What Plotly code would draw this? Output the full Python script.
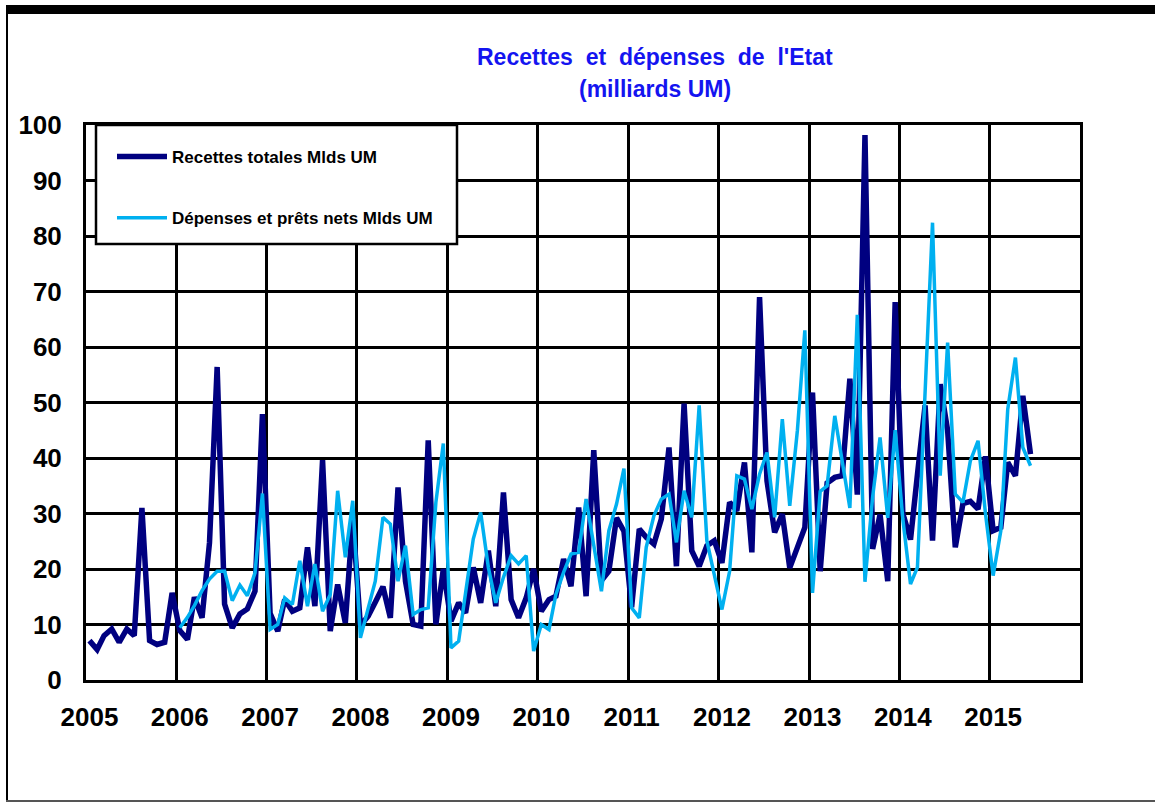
import plotly.graph_objects as go

# ---------------- data ----------------
recettes_start = (2005, 1)
recettes = [
    7.1, 5.5, 8.0, 9.2, 6.8, 9.2, 8.0, 31.0, 7.1, 6.4, 6.8, 15.7,        # 2005
    8.9, 7.3, 14.9, 11.2, 24.7, 56.4, 13.7, 9.4, 11.9, 12.8, 16.0, 47.9,  # 2006
    12.0, 8.8, 14.5, 12.4, 13.0, 23.9, 13.3, 39.6, 8.8, 17.2, 10.3, 29.0, # 2007
    9.8, 11.5, 14.0, 16.8, 11.2, 34.7, 17.8, 10.0, 9.7, 43.2, 10.0, 20.0, # 2008
    10.6, 13.9, 12.1, 20.3, 13.9, 23.3, 13.3, 33.8, 14.5, 11.2, 14.8, 20.0, # 2009
    12.4, 14.5, 15.1, 21.8, 16.9, 31.1, 15.1, 41.4, 17.9, 19.6, 29.2, 26.8, # 2010
    13.1, 27.2, 25.7, 24.5, 29.0, 41.9, 20.5, 49.8, 23.3, 20.5, 24.2, 25.1, # 2011
    21.1, 32.0, 30.5, 39.2, 23.0, 69.0, 35.9, 26.6, 29.9, 20.2, 23.9, 27.5, # 2012
    51.8, 19.6, 35.5, 36.5, 36.8, 54.3, 33.4, 98.2, 23.6, 29.8, 17.8, 68.1, # 2013
    30.0, 25.3, 37.0, 49.5, 25.1, 53.3, 45.0, 23.9, 31.8, 32.2, 30.8, 40.3, # 2014
    26.9, 27.5, 39.2, 36.8, 51.2, 40.7,                                   # 2015
]

depenses_start = (2006, 1)
depenses = [
    9.4, 11.3, 13.4, 16.1, 18.2, 19.6, 19.6, 14.3, 17.1, 15.2, 19.3, 33.6,  # 2006
    9.1, 10.0, 14.8, 13.6, 21.5, 13.3, 20.9, 12.4, 15.4, 34.1, 22.1, 32.3,  # 2007
    7.6, 12.9, 17.8, 29.3, 28.1, 17.8, 24.2, 11.8, 12.7, 13.0, 32.0, 42.6,  # 2008
    5.8, 7.0, 16.0, 25.4, 30.2, 20.3, 13.9, 18.5, 22.4, 20.9, 22.4, 5.2,    # 2009
    10.0, 9.1, 15.4, 19.4, 22.7, 23.0, 32.6, 24.0, 16.0, 26.9, 31.7, 38.1,  # 2010
    13.0, 11.2, 23.9, 29.6, 32.6, 33.5, 24.8, 34.1, 29.3, 49.5, 25.1, 19.0, # 2011
    12.7, 19.6, 36.8, 36.2, 30.8, 37.1, 41.0, 29.3, 47.0, 31.4, 45.0, 63.0, # 2012
    15.7, 34.0, 35.0, 47.6, 39.5, 31.0, 65.8, 17.7, 33.0, 43.7, 29.2, 45.0, # 2013
    29.0, 17.3, 20.3, 52.0, 82.4, 36.8, 60.8, 33.5, 32.0, 39.5, 43.1, 30.0, # 2014
    18.8, 26.9, 48.8, 58.1, 41.9, 38.6,                                    # 2015
]

years = list(range(2005, 2016))
year_labels = [str(y) for y in years]

title_line1 = "Recettes\u00a0 et\u00a0 dépenses\u00a0 de\u00a0 l'Etat"
title_line2 = "(milliards UM)"
name_recettes = "Recettes totales Mlds UM"
name_depenses = "Dépenses et prêts nets Mlds UM"


def month_dates(start, n):
    y, m = start
    out = []
    for _ in range(n):
        out.append(f"{y}-{m:02d}-15")
        m += 1
        if m > 12:
            m = 1
            y += 1
    return out


x_rec = month_dates(recettes_start, len(recettes))
x_dep = month_dates(depenses_start, len(depenses))

FONT = "Liberation Sans, Arial, sans-serif"
NAVY = "#000080"
LIGHT = "#00B0F0"

fig = go.Figure()
fig.add_trace(go.Scatter(
    x=x_rec, y=recettes, mode="lines", name=name_recettes,
    line=dict(color=NAVY, width=5.5), legendgroup="a",
))
fig.add_trace(go.Scatter(
    x=x_dep, y=depenses, mode="lines", name=name_depenses,
    line=dict(color=LIGHT, width=3.5), legendgroup="b",
))

# plot area in pixels: x 86..1080, y 125..680
W, H = 1155, 803
L, R, T, B = 86, 1080, 125, 680


def px(x):
    return (x - L) / (R - L)


def py(y):
    return (B - y) / (B - T)


shapes = [
    # outer frame: thick top bar, thin left line, bottom line
    dict(type="rect", xref="paper", yref="paper", x0=px(6), x1=px(1160), y0=py(14), y1=py(5),
         fillcolor="black", line=dict(width=0), layer="above"),
    dict(type="rect", xref="paper", yref="paper", x0=px(6), x1=px(8), y0=py(802), y1=py(6),
         fillcolor="black", line=dict(width=0), layer="above"),
    dict(type="rect", xref="paper", yref="paper", x0=px(6), x1=px(1160), y0=py(802), y1=py(800),
         fillcolor="#555555", line=dict(width=0), layer="above"),
    # legend box
    dict(type="rect", xref="paper", yref="paper", x0=px(96), x1=px(457), y0=py(244), y1=py(125),
         fillcolor="white", line=dict(color="black", width=2.5), layer="above"),
]

annotations = [
    dict(text=f"<b>{title_line1}</b>", x=px(655), y=py(57), xref="paper", yref="paper",
         showarrow=False, xanchor="center", yanchor="middle",
         font=dict(family=FONT, size=23, color="#1414F0")),
    dict(text=f"<b>{title_line2}</b>", x=px(655), y=py(89), xref="paper", yref="paper",
         showarrow=False, xanchor="center", yanchor="middle",
         font=dict(family=FONT, size=23, color="#1414F0")),
]

fig.update_layout(
    width=W, height=H,
    margin=dict(l=L, r=W - R, t=T, b=H - B, pad=0),
    paper_bgcolor="white", plot_bgcolor="white",
    font=dict(family=FONT, color="black"),
    shapes=shapes, annotations=annotations,
    showlegend=True,
    legend=dict(
        x=px(112), y=py(139), xanchor="left", yanchor="top",
        bgcolor="rgba(0,0,0,0)", borderwidth=0,
        font=dict(family=FONT, size=17, color="black", weight="bold"),
        itemwidth=50, tracegroupgap=36,
    ),
)

fig.update_xaxes(
    type="date", range=["2005-01-01", "2016-01-01"],
    tickvals=[f"{y}-01-15" for y in years], ticktext=year_labels,
    showgrid=False, ticks="", ticklabelstandoff=12,
    tickfont=dict(family=FONT, size=26, color="black", weight="bold"),
    minor=dict(tick0="2005-01-01", dtick="M12", showgrid=True,
               gridcolor="black", gridwidth=3, ticks=""),
    showline=True, linecolor="black", linewidth=3, mirror=True,
    zeroline=False,
)
fig.update_yaxes(
    range=[0, 100], dtick=10, tick0=0,
    showgrid=True, gridcolor="black", gridwidth=3,
    ticks="", ticklabelstandoff=16,
    tickfont=dict(family=FONT, size=26, color="black", weight="bold"),
    showline=True, linecolor="black", linewidth=3, mirror=True,
    zeroline=False,
)

fig.write_html(
    "out.html",
    config={"displayModeBar": False},
    post_script="document.body.style.margin='0';document.body.style.overflow='hidden';",
)
